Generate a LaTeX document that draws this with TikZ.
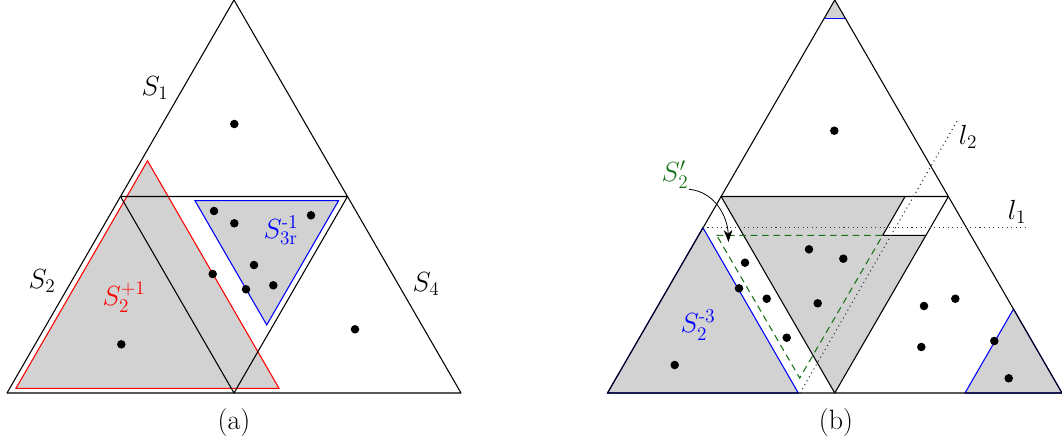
\documentclass[tikz,border=0pt]{standalone}
\usepackage{amsmath}
\usetikzlibrary{arrows.meta}
\definecolor{sgreen}{rgb}{0.1,0.45,0.1}
\begin{document}
\begin{tikzpicture}[x=0.75pt,y=-0.75pt, line width=0.8pt,
  every node/.style={font=\fontsize{21}{25}\selectfont, inner sep=0pt},
  edge/.style={draw=black, line join=round},
  shadedreg/.style={fill=gray!35},
  dotline/.style={draw=black!80, dash pattern=on 0.8pt off 2.6pt},
  greendash/.style={draw=sgreen, dash pattern=on 5pt off 3.5pt},
  blk/.style={fill=black}]
\useasboundingbox (0,0) rectangle (1062,446);

% ---------------- panel (a) ----------------
\coordinate (aA) at (234,0);
\coordinate (aB) at (7,393);
\coordinate (aC) at (461,393);
\coordinate (aL) at (120.5,196.5);
\coordinate (aR) at (347.5,196.5);
\coordinate (aM) at (234,393);
\coordinate (rT) at (147.5,160.8);
\coordinate (rL) at (16,388.3);
\coordinate (rR) at (279,388.3);
\coordinate (bL) at (195,200.7);
\coordinate (bR) at (338.5,200.7);
\coordinate (bB) at (266.75,324.9);

\filldraw[shadedreg, draw=red] (rT)--(rL)--(rR)--cycle;
\filldraw[shadedreg, draw=blue] (bL)--(bR)--(bB)--cycle;
\draw[edge] (aA)--(aB)--(aC)--cycle;
\draw[edge] (aL)--(aR)--(aM)--cycle;

\foreach \p in {(234.3,124),(214,211),(234.3,223.3),(311,215.3),(254,265),
  (212.7,274),(246,289.3),(273.3,285.3),(121.3,344.3),(355,329.3)}
  \fill[blk] \p circle (3.2pt);

\node (s1) at (155,88) {$S_1$};
\node (s2) at (42,281) {$S_2$};
\node (s4) at (426,284) {$S_4$};
\node[text=red] (s2p1) at (124,297) {$S_2^{+1}$};
\node[text=blue] (s3r) at (281,230) {$S_{3\mathrm{r}}^{\text{-1}}$};
\node (capa) at (234,423) {(a)};

% ---------------- panel (b) ----------------
\coordinate (A) at (834.75,0);
\coordinate (B) at (607.5,393);
\coordinate (C) at (1062,393);
\coordinate (Ml) at (721.1,196.5);
\coordinate (Mr) at (948.4,196.5);
\coordinate (Mb) at (834.75,393);
% small top triangle
\coordinate (tL) at (824.2,18.3);
\coordinate (tR) at (845.3,18.3);
% lower-left gray triangle
\coordinate (gT) at (702.9,227.7);
\coordinate (gR) at (798.3,393);
% lower-right gray triangle
\coordinate (hL) at (965,393);
\coordinate (hT) at (1013.5,309);
% parallelogram
\coordinate (pTL) at (905.1,196.5);
\coordinate (pBL) at (882.7,235.3);
\coordinate (pBR) at (926,235.3);
% green triangle
\coordinate (gnL) at (716.7,235.3);
\coordinate (gnB) at (799.7,378);
% dotted lines
\coordinate (l1e) at (1026.7,227.7);
\coordinate (l2s) at (800,393);
\coordinate (l2e) at (958.6,118.3);
\coordinate (arrEnd) at (728.5,242);

\fill[shadedreg] (A)--(tL)--(tR)--cycle;
\fill[shadedreg] (B)--(gT)--(gR)--cycle;
\fill[shadedreg] (hL)--(hT)--(C)--cycle;
\fill[shadedreg] (Ml)--(pTL)--(pBL)--(pBR)--(Mb)--cycle;

\draw[blue] (tL)--(tR);
\draw[blue] (B)--(gT)--(gR)--cycle;
\draw[blue] (hL)--(hT)--(C)--cycle;

\draw[edge] (A)--(B)--(C)--cycle;
\draw[edge] (Ml)--(Mr)--(Mb)--cycle;
\draw[edge] (pTL)--(pBL)--(pBR);

\draw[dotline] (gT)--(l1e);
\draw[dotline] (l2s)--(l2e);
\draw[greendash] (gnL)--(pBL)--(gnB)--cycle;

\foreach \p in {(834.3,130.7),(809,249.3),(843.3,258.7),(745,262.7),(739,288.3),
  (766.7,298.7),(817.7,303.3),(786.7,337.7),(674.7,365),(924,306),(955.3,298.7),
  (921.3,347),(994.3,341),(1008.7,378.3)}
  \fill[blk] \p circle (3.2pt);

\node[text=sgreen] (s2q) at (675,175) {$S'_2$};
\node[text=blue] (s2m3) at (698,325) {$S_2^{\text{-3}}$};
\node (l1) at (1017,212) {$l_1$};
\node (l2) at (968,137) {$l_2$};
\node (capb) at (836,423) {(b)};

\draw[-{Stealth[length=9pt,width=6.5pt]}, line width=0.6pt]
  (s2q.south east) to[out=-5,in=92] (arrEnd);
\end{tikzpicture}
\end{document}
